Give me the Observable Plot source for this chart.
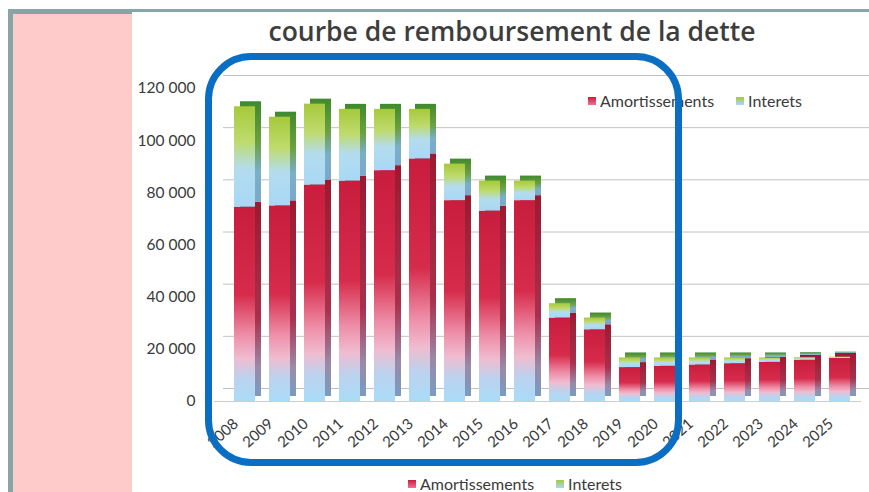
<!DOCTYPE html>
<html><head><meta charset="utf-8">
<script src="https://cdn.jsdelivr.net/npm/d3@7"></script>
<script src="https://cdn.jsdelivr.net/npm/@observablehq/plot@0.6"></script>
<style>
body{margin:0;background:#fff;font-family:Lato,"Open Sans",sans-serif;}
#page{position:relative;width:869px;height:492px;overflow:hidden;background:#fff;}
#topline{position:absolute;left:8px;top:9px;width:861px;height:3px;background:#88a5a5;}
#topline2{position:absolute;left:8px;top:9px;width:124px;height:5px;background:#88a5a5;}
#leftline{position:absolute;left:8px;top:9px;width:5px;height:483px;background:#88a5a5;}
#pink{position:absolute;left:13px;top:14px;width:119px;height:478px;background:#ffcaca;}
#title{position:absolute;left:132px;width:760px;top:13px;text-align:center;font-family:"Open Sans",Lato,sans-serif;font-size:26.5px;font-weight:600;color:#3d3d3d;}
#chart{position:absolute;left:130px;top:60px;}
#blue{position:absolute;left:205px;top:53px;width:463px;height:399px;border:7px solid #0a6fc2;border-radius:46px;pointer-events:none;}
.legend{position:absolute;font-size:16px;color:#3a3a3a;white-space:nowrap;}
.legend span.sw{display:inline-block;width:8px;height:8px;margin-right:4px;vertical-align:2px;}
.legend span.item{margin-right:22px;}
</style></head>
<body>
<div id="page">
  <div id="topline"></div><div id="topline2"></div><div id="leftline"></div><div id="pink"></div>
  <div id="title"></div>
  <div id="chart"></div>
  <div class="legend" id="legTop" style="left:588px;top:91px;"></div>
  <div class="legend" id="legBottom" style="left:408px;top:474px;"></div>
  <div id="blue"></div>
</div>
<script>
const title = "courbe de remboursement de la dette";
const years = ["2008","2009","2010","2011","2012","2013","2014","2015","2016","2017","2018","2019","2020","2021","2022","2023","2024","2025"];
const amortissements = [74500, 75000, 83000, 84500, 88500, 93000, 77000, 73000, 77000, 32000, 27500, 13000, 13500, 14000, 14500, 15000, 15800, 16500];
const interets = [38500, 34000, 31000, 27500, 23500, 19000, 14000, 11500, 7500, 5500, 4500, 3700, 3200, 2700, 2200, 1700, 1000, 500];
const seriesNames = ["Amortissements", "Interets"];
const yTicks = [0, 20000, 40000, 60000, 80000, 100000, 120000];

document.getElementById("title").textContent = title;

const data = [];
years.forEach((y, i) => {
  data.push({year: y, serie: seriesNames[0], value: amortissements[i]});
  data.push({year: y, serie: seriesNames[1], value: interets[i]});
});

const fmt = d => d3.format(",")(d).replace(/,/g, " ");

const chart = Plot.plot({
  width: 739,
  height: 400,
  marginLeft: 88,
  marginRight: 4,
  marginTop: 28,
  marginBottom: 59,
  style: {fontFamily: "Lato, 'Open Sans', sans-serif", background: "transparent"},
  x: {domain: years, padding: 0.41, label: null},
  y: {domain: [0, 120000], label: null},
  marks: [
    // back-wall grid lines
    Plot.ruleY(yTicks, {stroke: "#c2c2c2", strokeWidth: 1, dy: -13, dx: 5}),
    // floor
    Plot.ruleY([0], {stroke: "#cdcdcd", strokeWidth: 1.2, dx: -4}),
    // 3D depth (side/top faces)
    Plot.barY(data, Plot.stackY({x: "year", y: "value", order: seriesNames,
      fill: d => d.serie === seriesNames[0] ? "url(#sideA)" : "url(#sideI)", dx: 6, dy: -5})),
    // front faces
    Plot.barY(data, Plot.stackY({x: "year", y: "value", order: seriesNames,
      fill: d => d.serie === seriesNames[0] ? "url(#gradA)" : "url(#gradI)"})),
    Plot.axisY({ticks: yTicks, tickFormat: fmt, tickSize: 0, tickPadding: 23, fontSize: 15.5, fill: "#3a3a3a", label: null}),
    Plot.axisX({tickRotate: -42, tickSize: 0, tickPadding: 16, dx: -9, dy: 4, fontSize: 15, fill: "#3a3a3a", label: null})
  ]
});

// gradients
const defs = d3.select(chart).insert("defs", ":first-child");
function grad(id, stops) {
  const g = defs.append("linearGradient").attr("id", id).attr("x1", 0).attr("y1", 0).attr("x2", 0).attr("y2", 1);
  stops.forEach(([o, c]) => g.append("stop").attr("offset", o).attr("stop-color", c));
}
grad("gradA", [[0, "#c81d3c"], [0.45, "#d62b4a"], [0.66, "#ee8ea8"], [0.78, "#f0bcd0"], [0.88, "#bcd2ee"], [1, "#a9dcf8"]]);
grad("gradI", [[0, "#a6c93c"], [0.35, "#bedb6c"], [0.62, "#b4dcee"], [1, "#a8d8f6"]]);
grad("sideA", [[0, "#9c1a30"], [0.6, "#a8304c"], [0.85, "#9a8aa8"], [1, "#7a9cc0"]]);
grad("sideI", [[0, "#3f8a2e"], [0.4, "#6aa040"], [0.7, "#7ab0c8"], [1, "#7aa8cc"]]);

document.getElementById("chart").appendChild(chart);

function legend(el) {
  const cols = ["linear-gradient(#c81d3c,#f07090)", "linear-gradient(#a6c93c,#a8d8f6)"];
  el.innerHTML = seriesNames.map((s, i) =>
    `<span class="item"><span class="sw" style="background:${cols[i]}"></span>${s}</span>`).join("");
}
legend(document.getElementById("legTop"));
legend(document.getElementById("legBottom"));
</script>
</body></html>
